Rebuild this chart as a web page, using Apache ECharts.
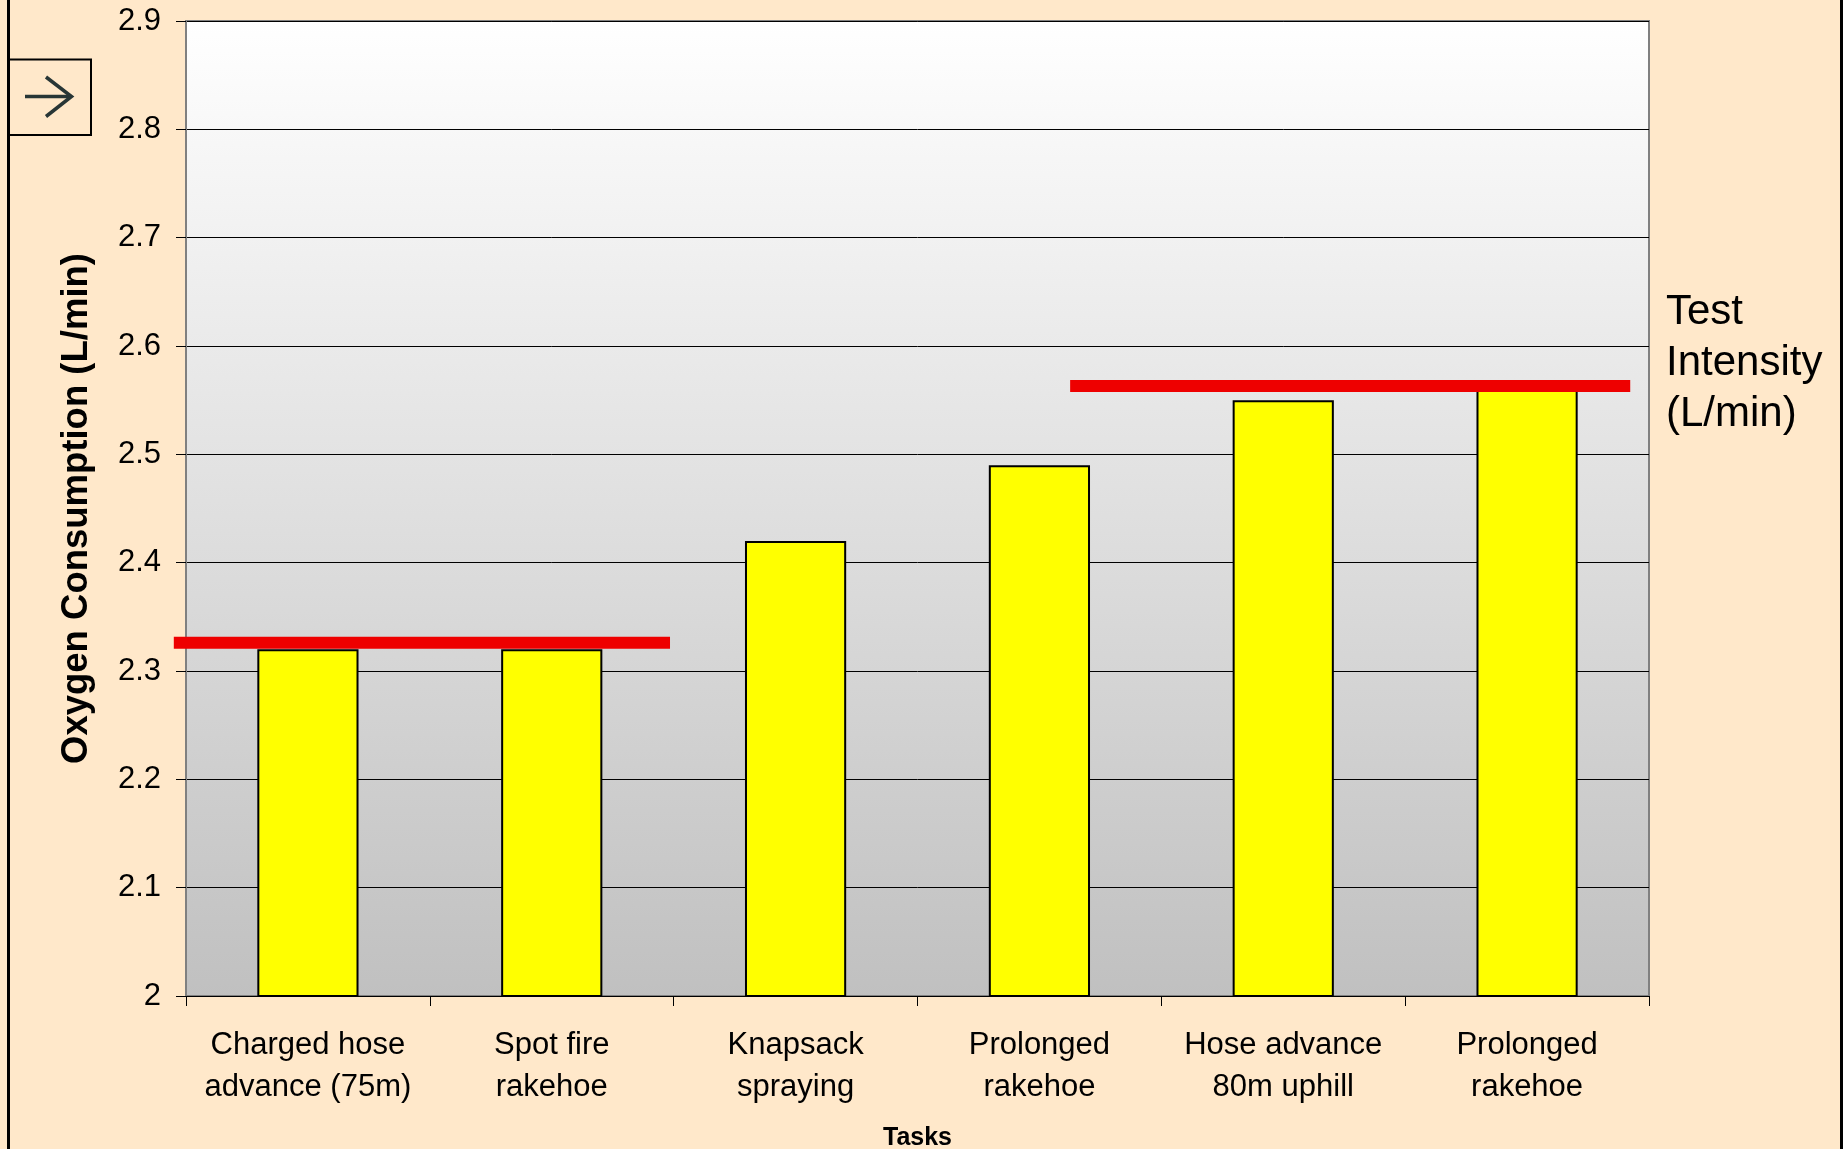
<!DOCTYPE html>
<html>
<head>
<meta charset="utf-8">
<title>Oxygen Consumption by Task</title>
<script src="https://cdn.jsdelivr.net/npm/echarts@6/dist/echarts.min.js"></script>
<style>
  html, body { margin: 0; padding: 0; background: #FFE8CA; }
  #chart { width: 1843px; height: 1149px; }
</style>
</head>
<body>
<div id="chart"></div>
<script>
// Task categories along the x axis
const tasks = [
  'Charged hose\nadvance (75m)',
  'Spot fire\nrakehoe',
  'Knapsack\nspraying',
  'Prolonged\nrakehoe',
  'Hose advance\n80m uphill',
  'Prolonged\nrakehoe'
];

// Measured oxygen consumption per task (L/min)
const oxygenUse = [2.32, 2.32, 2.42, 2.49, 2.55, 2.56];

// Test intensity levels (L/min) and the span of task slots each one covers
const intensityLevels = [2.326, 2.563];
const intensityStart = [-0.05, 3.626];
const intensityEnd = [1.985, 5.923];

// Y axis scale
const yMin = 2;
const yMax = 2.9;
const yStep = 0.1;

const chart = echarts.init(document.getElementById('chart'), null, { renderer: 'canvas' });

const FONT = 'Liberation Sans, Arial, sans-serif';

// one row per intensity bar: [from slot, to slot, level]
const intensityData = intensityLevels.map((level, i) => [intensityStart[i], intensityEnd[i], level]);

chart.setOption({
  animation: false,
  backgroundColor: '#FFE8CA',
  grid: {
    left: 186, right: 194, top: 21, bottom: 153,
    outerBoundsMode: 'none',
    containLabel: false,
    show: true,
    borderColor: '#808080',
    borderWidth: 2,
    backgroundColor: {
      type: 'linear', x: 0, y: 0, x2: 0, y2: 1,
      colorStops: [
        { offset: 0, color: '#FFFFFF' },
        { offset: 1, color: '#C0C0C0' }
      ]
    }
  },
  xAxis: [
    {
      type: 'category',
      data: tasks,
      boundaryGap: true,
      name: 'Tasks',
      nameLocation: 'middle',
      nameGap: 130,
      nameTextStyle: { fontFamily: FONT, fontSize: 25, fontWeight: 'bold', color: '#000' },
      axisLine: { show: true, lineStyle: { color: '#000', width: 1 } },
      axisTick: { show: true, length: 10, lineStyle: { color: '#000', width: 1 } },
      axisLabel: {
        fontFamily: FONT, fontSize: 31, color: '#000',
        lineHeight: 42, margin: 28, interval: 0
      },
      splitLine: { show: false }
    },
    {
      type: 'value',
      min: 0, max: tasks.length,
      show: false
    }
  ],
  yAxis: {
    type: 'value',
    min: yMin, max: yMax, interval: yStep,
    name: 'Oxygen Consumption (L/min)',
    nameLocation: 'middle',
    nameGap: 91,
    nameRotate: 90,
    nameTextStyle: { fontFamily: FONT, fontSize: 36.5, fontWeight: 'bold', color: '#000' },
    axisLine: { show: true, lineStyle: { color: '#808080', width: 2 } },
    axisTick: { show: true, length: 10, lineStyle: { color: '#000', width: 1 } },
    axisLabel: {
      fontFamily: FONT, fontSize: 31, color: '#000', margin: 25,
      formatter: v => String(Math.round(v * 10) / 10)
    },
    splitLine: { show: true, lineStyle: { color: '#000', width: 1 } }
  },
  series: [
    {
      type: 'bar',
      data: oxygenUse,
      barWidth: '41.5%',
      z: 3,
      itemStyle: { color: '#FFFF00', borderColor: '#000', borderWidth: 2 }
    },
    {
      type: 'custom',
      xAxisIndex: 1,
      yAxisIndex: 0,
      data: intensityData,
      encode: { x: [0, 1], y: 2 },
      clip: false,
      silent: true,
      z: 5,
      renderItem: (params, api) => {
        const a = api.coord([api.value(0), api.value(2)]);
        const b = api.coord([api.value(1), api.value(2)]);
        return {
          type: 'line',
          shape: { x1: a[0], y1: a[1], x2: b[0], y2: b[1] },
          style: { stroke: '#EE0000', lineWidth: 12, lineCap: 'butt' }
        };
      }
    }
  ],
  graphic: [
    // slide frame edges
    { type: 'line', shape: { x1: 8.5, y1: 0, x2: 8.5, y2: 1149 }, style: { stroke: '#000', lineWidth: 3 }, z: 10 },
    { type: 'line', shape: { x1: 1841.5, y1: 0, x2: 1841.5, y2: 1149 }, style: { stroke: '#000', lineWidth: 3 }, z: 10 },
    // navigation button
    { type: 'rect', shape: { x: 8, y: 59.5, width: 83, height: 75.5 }, style: { fill: 'none', stroke: '#000', lineWidth: 2 }, z: 10 },
    { type: 'polyline', shape: { points: [[25, 96.5], [71, 96.5]] }, style: { stroke: '#283636', lineWidth: 3.5, fill: 'none' }, z: 10 },
    { type: 'polyline', shape: { points: [[46, 77], [71.5, 96.5], [46, 116.5]] }, style: { stroke: '#283636', lineWidth: 3.5, fill: 'none' }, z: 10 },
    // label for the red intensity bars
    {
      type: 'text', left: 1666, top: 287, z: 10,
      style: {
        text: 'Test\nIntensity\n(L/min)',
        font: '42px ' + FONT,
        lineHeight: 51,
        fill: '#000'
      }
    }
  ]
});
</script>
</body>
</html>
